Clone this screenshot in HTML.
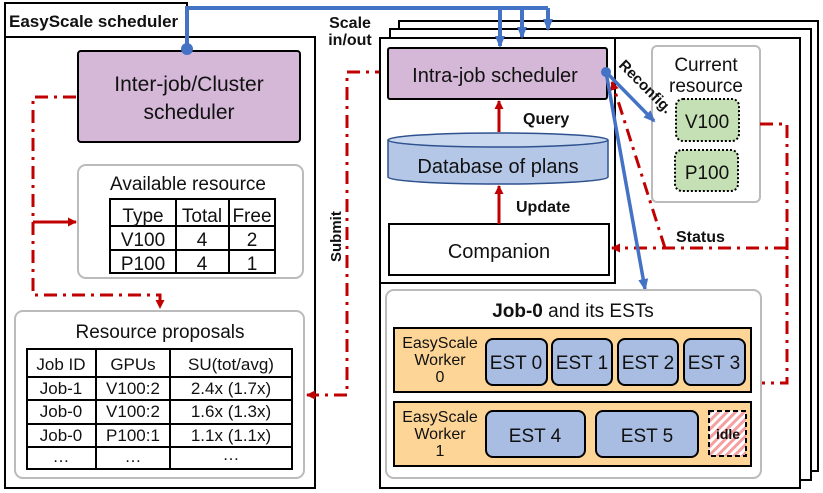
<!DOCTYPE html>
<html><head><meta charset="utf-8"><style>
body{margin:0;background:#fff}
svg{display:block}
text{font-family:"Liberation Sans","DejaVu Sans",sans-serif;fill:#111}
</style></head><body>
<svg width="823" height="493" viewBox="0 0 823 493" xmlns="http://www.w3.org/2000/svg">
<defs>
<marker id="ra" markerWidth="9" markerHeight="9" refX="8" refY="4.5" orient="auto" markerUnits="userSpaceOnUse"><path d="M0,0 L9,4.5 L0,9 z" fill="#c00000"/></marker>
<marker id="ba" markerWidth="12" markerHeight="10" refX="10" refY="5" orient="auto" markerUnits="userSpaceOnUse"><path d="M0,0 L12,5 L0,10 z" fill="#4472c4"/></marker>
<pattern id="hatch" width="6" height="6" patternUnits="userSpaceOnUse" patternTransform="rotate(45)"><rect width="6" height="6" fill="#fff"/><rect width="3" height="6" fill="#f4a0a0"/></pattern>
</defs>
<rect x="5" y="3" width="182" height="34" fill="#fff" stroke="#000" stroke-width="2"/>
<text x="9" y="27" font-size="17" font-weight="bold">EasyScale scheduler</text>
<rect x="5" y="37" width="310" height="451" fill="#fff" stroke="#000" stroke-width="2"/>
<rect x="78" y="51" width="222" height="91" rx="3" fill="#d5b8d8" stroke="#000" stroke-width="2"/>
<text x="189" y="91" font-size="21" text-anchor="middle">Inter-job/Cluster</text>
<text x="189" y="119" font-size="21" text-anchor="middle">scheduler</text>
<rect x="78" y="165" width="225" height="113" rx="8" fill="#fff" stroke="#bbb" stroke-width="2"/>
<text x="188" y="190" font-size="19" text-anchor="middle">Available resource</text>
<g stroke="#000" stroke-width="2" fill="none"><rect x="110" y="199" width="165" height="74"/><line x1="110" y1="226" x2="275" y2="226"/><line x1="110" y1="250" x2="275" y2="250"/><line x1="176" y1="199" x2="176" y2="273"/><line x1="229" y1="199" x2="229" y2="273"/></g>
<g font-size="19" text-anchor="middle"><text x="143" y="222">Type</text><text x="202" y="222">Total</text><text x="252" y="222">Free</text>
<text x="143" y="246">V100</text><text x="202" y="246">4</text><text x="252" y="246">2</text>
<text x="143" y="270">P100</text><text x="202" y="270">4</text><text x="252" y="270">1</text></g>
<rect x="15" y="311" width="289" height="167" rx="8" fill="#fff" stroke="#bbb" stroke-width="2"/>
<text x="160" y="338" font-size="19" text-anchor="middle">Resource proposals</text>
<g stroke="#000" stroke-width="2" fill="none"><rect x="27" y="349" width="265" height="120"/><line x1="27" y1="377" x2="292" y2="377"/><line x1="27" y1="400" x2="292" y2="400"/><line x1="27" y1="424" x2="292" y2="424"/><line x1="27" y1="447" x2="292" y2="447"/><line x1="96" y1="349" x2="96" y2="469"/><line x1="170" y1="349" x2="170" y2="469"/></g>
<g font-size="17" text-anchor="middle"><text x="61" y="370">Job ID</text><text x="133" y="370">GPUs</text><text x="231" y="370">SU(tot/avg)</text>
<text x="61" y="394">Job-1</text><text x="133" y="394">V100:2</text><text x="231" y="394">2.4x (1.7x)</text>
<text x="61" y="417">Job-0</text><text x="133" y="417">V100:2</text><text x="231" y="417">1.6x (1.3x)</text>
<text x="61" y="441">Job-0</text><text x="133" y="441">P100:1</text><text x="231" y="441">1.1x (1.1x)</text>
<text x="61" y="462">…</text><text x="133" y="462">…</text><text x="231" y="460">…</text></g>
<g stroke="#c00000" stroke-width="3" fill="none" stroke-dasharray="13,6,3,6">
<polyline points="76,97 33,97 33,295 160,295 160,308" marker-end="url(#ra)"/>
<line x1="33" y1="222" x2="76" y2="222" stroke-dasharray="none" marker-end="url(#ra)"/>
<polyline points="388,72 347,72 347,395 307,395" marker-end="url(#ra)"/>
</g>
<text transform="translate(341,262) rotate(-90)" font-size="15" font-weight="bold">Submit</text>
<text x="350" y="28" font-size="16" font-weight="bold" text-anchor="middle">Scale</text>
<text x="350" y="45" font-size="16" font-weight="bold" text-anchor="middle">in/out</text>
<rect x="399" y="21" width="419" height="450" fill="#fff" stroke="#000" stroke-width="2"/>
<rect x="390" y="29" width="421" height="451" fill="#fff" stroke="#000" stroke-width="2"/>
<rect x="380" y="38" width="420" height="450" fill="#fff" stroke="#000" stroke-width="2"/>
<rect x="380" y="38" width="235" height="245" fill="none" stroke="#000" stroke-width="2"/>
<g stroke="#4472c4" stroke-width="4" fill="none">
<polyline points="187,47 187,8 548,8"/>
<line x1="500" y1="8" x2="500" y2="46" marker-end="url(#ba)"/>
<line x1="522" y1="8" x2="522" y2="37" marker-end="url(#ba)"/>
<line x1="548" y1="8" x2="548" y2="29" marker-end="url(#ba)"/>
</g>
<rect x="388" y="48" width="219" height="51" rx="2" fill="#d5b8d8" stroke="#000" stroke-width="2"/>
<text x="495" y="82" font-size="20" text-anchor="middle">Intra-job scheduler</text>
<circle cx="187" cy="49" r="6" fill="#4472c4"/>
<path d="M388,140 L388,177 A110,7 0 0 0 608,177 L608,140" fill="#b4c7e7" stroke="#2f528f" stroke-width="1.5"/>
<ellipse cx="498" cy="140" rx="110" ry="7" fill="#c9d7ef" stroke="#2f528f" stroke-width="1.5"/>
<text x="498" y="173" font-size="20" text-anchor="middle">Database of plans</text>
<rect x="389" y="224" width="220" height="51" fill="#fff" stroke="#000" stroke-width="2"/>
<text x="499" y="258" font-size="20" text-anchor="middle">Companion</text>
<g stroke="#c00000" stroke-width="3"><line x1="499" y1="224" x2="499" y2="186" marker-end="url(#ra)"/><line x1="499" y1="132" x2="499" y2="101" marker-end="url(#ra)"/></g>
<text x="523" y="124" font-size="16" font-weight="bold">Query</text>
<text x="516" y="212" font-size="16" font-weight="bold">Update</text>
<rect x="652" y="46" width="108" height="156" rx="5" fill="#fff" stroke="#bbb" stroke-width="2"/>
<text x="706" y="71" font-size="19" text-anchor="middle">Current</text>
<text x="706" y="92" font-size="19" text-anchor="middle">resource</text>
<rect x="676" y="99" width="63" height="42" rx="7" fill="#c5e0b4" stroke="#000" stroke-width="2" stroke-dasharray="2,2"/>
<text x="707" y="128" font-size="19" text-anchor="middle">V100</text>
<rect x="675" y="150" width="63" height="41" rx="7" fill="#c5e0b4" stroke="#000" stroke-width="2" stroke-dasharray="2,2"/>
<text x="707" y="179" font-size="19" text-anchor="middle">P100</text>
<g stroke="#c00000" stroke-width="3" fill="none" stroke-dasharray="13,6,3,6">
<polyline points="760,124 787,124 787,383 761,383"/>
<polyline points="787,248 612,248" marker-end="url(#ra)"/>
<polyline points="665,248 612,82" marker-end="url(#ra)"/>
</g>
<text x="676" y="242" font-size="16" font-weight="bold">Status</text>
<g stroke="#4472c4" stroke-width="3.5" fill="none">
<line x1="606" y1="72" x2="654" y2="121" marker-end="url(#ba)"/>
<line x1="606" y1="72" x2="645" y2="289" marker-end="url(#ba)"/>
</g>
<circle cx="606" cy="72" r="5" fill="#4472c4"/>
<text transform="translate(618,66) rotate(45)" font-size="15" font-weight="bold">Reconfig.</text>
<rect x="386" y="290" width="375" height="188" rx="8" fill="#fff" stroke="#bbb" stroke-width="2"/>
<text x="573" y="317" font-size="19" text-anchor="middle"><tspan font-weight="bold">Job-0</tspan> and its ESTs</text>
<rect x="394" y="328" width="357" height="64" fill="#fdd597" stroke="#000" stroke-width="2"/>
<rect x="394" y="402" width="357" height="64" fill="#fdd597" stroke="#000" stroke-width="2"/>
<g font-size="16" text-anchor="middle"><text x="440" y="348">EasyScale</text><text x="440" y="365">Worker</text><text x="440" y="382">0</text>
<text x="440" y="422">EasyScale</text><text x="440" y="439">Worker</text><text x="440" y="456">1</text></g>
<g fill="#a9bde2" stroke="#000" stroke-width="2">
<rect x="486" y="339" width="61" height="46" rx="7"/><rect x="552" y="339" width="60" height="46" rx="7"/><rect x="618" y="339" width="60" height="46" rx="7"/><rect x="684" y="339" width="61" height="46" rx="7"/>
<rect x="486" y="411" width="99" height="46" rx="7"/><rect x="596" y="411" width="102" height="46" rx="7"/></g>
<g font-size="19" text-anchor="middle"><text x="516" y="369">EST 0</text><text x="582" y="369">EST 1</text><text x="648" y="369">EST 2</text><text x="714" y="369">EST 3</text>
<text x="535" y="442">EST 4</text><text x="647" y="442">EST 5</text></g>
<rect x="709" y="411" width="37" height="45" fill="url(#hatch)" stroke="#000" stroke-width="2" stroke-dasharray="5,3"/>
<text x="728" y="439" font-size="14" font-weight="bold" text-anchor="middle">idle</text>
</svg>
</body></html>
